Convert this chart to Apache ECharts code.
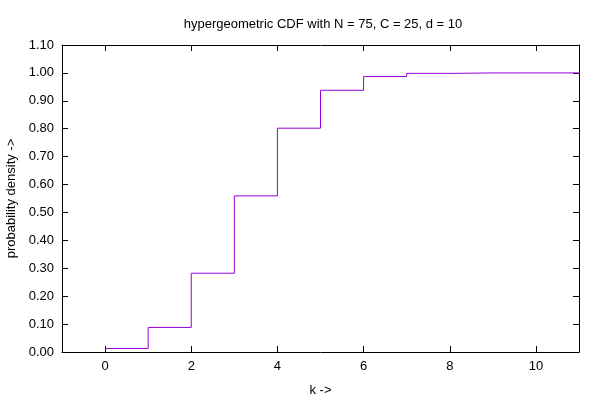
<!DOCTYPE html>
<html>
<head>
<meta charset="utf-8">
<script src="https://cdn.jsdelivr.net/npm/echarts@6/dist/echarts.min.js"></script>
<style>html,body{margin:0;padding:0;background:#fff}#c{width:600px;height:400px}</style>
</head>
<body>
<div id="c"></div>
<script>
var kValues = [0, 1, 2, 3, 4, 5, 6, 7, 8, 9, 10, 11, 12];
var cdfValues = [0.0124, 0.0880, 0.2823, 0.5594, 0.8019, 0.9377, 0.9869, 0.9983, 0.9999, 1.0, 1.0, 1.0, 1.0];
var xTicks = [0, 2, 4, 6, 8, 10];
var titleText = 'hypergeometric CDF with N = 75, C = 25, d = 10';
var xName = 'k ->';
var yName = 'probability density ->';

var font = 'Liberation Sans, Arial, sans-serif';
var fs = 13;
var chart = echarts.init(document.getElementById('c'), null, {renderer: 'canvas'});
var axisLine = {show: true, onZero: false, lineStyle: {color: '#000', width: 1}};
var tick = {show: true, inside: true, length: 6, lineStyle: {color: '#000', width: 1}};
var data = kValues.map(function (k, i) { return [k, cdfValues[i]]; });
chart.setOption({
  animation: false,
  backgroundColor: '#fff',
  title: {
    text: titleText, left: 318, top: 13, textAlign: 'center',
    textStyle: {fontFamily: font, fontSize: fs, fontWeight: 'normal', color: '#000'}
  },
  grid: {left: 62, right: 21, top: 45, bottom: 48, containLabel: false, outerBoundsMode: 'none'},
  xAxis: [{
    type: 'value', min: -1, max: 11, position: 'bottom',
    name: xName, nameLocation: 'middle', nameGap: 32,
    nameTextStyle: {fontFamily: font, fontSize: fs, color: '#000'},
    axisLine: axisLine,
    axisTick: Object.assign({customValues: xTicks}, tick),
    axisLabel: {customValues: xTicks, fontFamily: font, fontSize: fs, color: '#000', margin: 8},
    splitLine: {show: false}
  }, {
    type: 'value', min: -1, max: 11, position: 'top',
    axisLine: axisLine,
    axisTick: Object.assign({customValues: xTicks}, tick),
    axisLabel: {show: false, customValues: xTicks},
    splitLine: {show: false}
  }],
  yAxis: [{
    type: 'value', min: 0, max: 1.1, interval: 0.1, position: 'left',
    name: yName, nameLocation: 'middle', nameGap: 43, nameRotate: 90,
    nameTextStyle: {fontFamily: font, fontSize: fs, color: '#000'},
    axisLine: axisLine, axisTick: tick,
    axisLabel: {fontFamily: font, fontSize: fs, color: '#000', margin: 8,
      formatter: function (v) { return v.toFixed(2); }},
    splitLine: {show: false}
  }, {
    type: 'value', min: 0, max: 1.1, interval: 0.1, position: 'right',
    axisLine: axisLine, axisTick: tick,
    axisLabel: {show: false}, splitLine: {show: false}
  }],
  series: [{
    type: 'line', step: 'end', data: data, showSymbol: false, symbol: 'none',
    clip: true, xAxisIndex: 0, yAxisIndex: 0,
    lineStyle: {color: '#9400D3', width: 1}
  }]
});
</script>
</body>
</html>
